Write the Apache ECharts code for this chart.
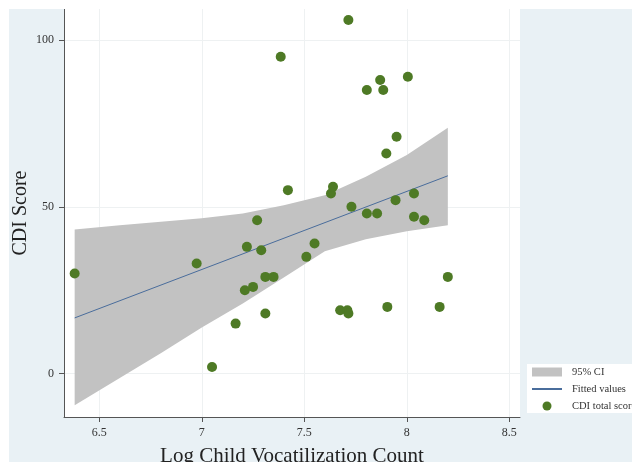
<!DOCTYPE html>
<html>
<head>
<meta charset="utf-8">
<script src="https://cdn.jsdelivr.net/npm/echarts@6/dist/echarts.min.js"></script>
<style>
  html, body { margin: 0; padding: 0; background: #fff; }
  #chart { position: absolute; left: 9px; top: 9px; width: 623px; height: 453px; background: #e9f1f5; }
</style>
</head>
<body>
<div id="chart"></div>
<script>
// CDI total score vs log child vocalization count
var scoreX = [6.38, 6.975, 7.05, 7.165, 7.21, 7.22, 7.25, 7.27, 7.29, 7.31, 7.35, 7.31, 7.385,
  7.42, 7.51, 7.55, 7.63, 7.64, 7.675, 7.71, 7.715, 7.715, 7.73, 7.805, 7.805, 7.855, 7.87,
  7.885, 7.9, 7.905, 7.945, 7.95, 8.005, 8.035, 8.035, 8.085, 8.16, 8.2];
var scoreY = [30, 33, 2, 15, 25, 38, 26, 46, 37, 29, 29, 18, 95,
  55, 35, 39, 54, 56, 19, 19, 18, 106, 50, 85, 48, 48, 88,
  85, 66, 20, 52, 71, 89, 54, 47, 46, 20, 29];

// fitted line end points
var fitX = [6.38, 8.2];
var fitY = [16.7, 59.3];

// 95% CI band
var ciX = [6.38, 6.6, 6.8, 7.0, 7.2, 7.4, 7.6, 7.8, 8.0, 8.2];
var ciLower = [-9.5, -1.3, 6.1, 13.8, 21, 28.8, 36.7, 40.3, 42.7, 44.5];
var ciUpper = [43.2, 44.5, 45.5, 46.6, 48, 50.5, 53.5, 59, 65.5, 73.7];

var xTicks = [6.5, 7, 7.5, 8, 8.5];
var yTicks = [0, 50, 100];

var serif = 'Liberation Serif';

var scatterData = [];
for (var i = 0; i < scoreX.length; i++) scatterData.push([scoreX[i], scoreY[i]]);
var fitData = [];
for (var i = 0; i < fitX.length; i++) fitData.push([fitX[i], fitY[i]]);
var bandData = [];
for (var i = 0; i < ciX.length; i++) bandData.push([ciX[i], ciLower[i], ciUpper[i]]);

var chart = echarts.init(document.getElementById('chart'));

chart.setOption({
  animation: false,
  grid: {
    left: 55, top: 0, right: 112, bottom: 45,
    outerBoundsMode: 'none', containLabel: false,
    backgroundColor: '#fff', show: true, borderWidth: 0
  },
  legend: {
    orient: 'vertical',
    left: 518,
    top: 355,
    backgroundColor: '#fff',
    padding: [2, 6, 1, 4],
    itemWidth: 30,
    itemHeight: 9,
    itemGap: 5,
    textStyle: { fontFamily: serif, fontSize: 10.5, lineHeight: 12, color: '#333', padding: [0, 0, 0, 5] },
    data: [
      { name: '95% CI', icon: 'rect' },
      { name: 'Fitted values', itemStyle: { opacity: 0 } },
      { name: 'CDI total score', icon: 'circle' }
    ]
  },
  xAxis: {
    type: 'value',
    min: 6.328,
    max: 8.552,
    name: 'Log Child Vocatilization Count',
    nameLocation: 'middle',
    nameGap: 29,
    nameMoveOverlap: false,
    nameTextStyle: { fontFamily: serif, fontSize: 21, color: '#222' },
    axisLine: { onZero: false, lineStyle: { color: '#555' } },
    axisTick: { customValues: xTicks, length: 5, lineStyle: { color: '#555' } },
    axisLabel: { customValues: xTicks, margin: 10, fontFamily: serif, fontSize: 12, color: '#333' },
    splitLine: { show: true, customValues: xTicks, lineStyle: { color: '#eef1f2' } }
  },
  yAxis: {
    type: 'value',
    min: -13,
    max: 109.3,
    name: 'CDI Score',
    nameLocation: 'middle',
    nameGap: 33,
    nameMoveOverlap: false,
    nameTextStyle: { fontFamily: serif, fontSize: 20, color: '#222' },
    axisLine: { show: true, onZero: false, lineStyle: { color: '#555' } },
    axisTick: { show: true, customValues: yTicks, length: 5, lineStyle: { color: '#555' } },
    axisLabel: { customValues: yTicks, margin: 10, fontFamily: serif, fontSize: 12, color: '#333' },
    splitLine: { show: true, customValues: yTicks, lineStyle: { color: '#eef1f2' } }
  },
  series: [
    {
      name: '95% CI',
      type: 'custom',
      itemStyle: { color: '#c2c2c2' },
      data: bandData,
      encode: { x: 0, y: [1, 2] },
      renderItem: function (params, api) {
        if (params.dataIndex !== 0) return;
        var pts = [];
        for (var k = 0; k < bandData.length; k++) pts.push(api.coord([bandData[k][0], bandData[k][2]]));
        for (var k = bandData.length - 1; k >= 0; k--) pts.push(api.coord([bandData[k][0], bandData[k][1]]));
        return {
          type: 'polygon',
          shape: { points: pts },
          style: { fill: '#c2c2c2' },
          silent: true
        };
      },
      z: 1
    },
    {
      name: 'Fitted values',
      type: 'line',
      data: fitData,
      symbol: 'none',
      lineStyle: { color: '#4a6d9c', width: 1 },
      itemStyle: { color: '#4a6d9c' },
      z: 2
    },
    {
      name: 'CDI total score',
      type: 'scatter',
      data: scatterData,
      symbol: 'circle',
      symbolSize: 10,
      itemStyle: { color: '#4e7a25', opacity: 1 },
      z: 3
    }
  ]
});
</script>
</body>
</html>
